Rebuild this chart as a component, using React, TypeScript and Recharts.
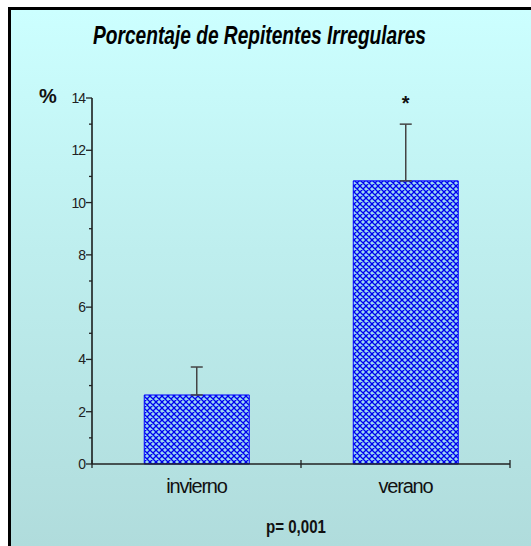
import React from "react";
import { BarChart, Bar, XAxis, YAxis, ErrorBar, LabelList } from "recharts";

const categories = ["invierno", "verano"];
const values = [2.64, 10.83];
const errorsUp = [1.07, 2.17];
const significance = ["", "*"];
const yTicks = [0, 1, 2, 3, 4, 5, 6, 7, 8, 9, 10, 11, 12, 13, 14];
const titleText = "Porcentaje de Repitentes Irregulares";
const unitText = "%";
const pValueText = "p= 0,001";

const data = categories.map((c, i) => ({
  name: c,
  value: values[i],
  err: [0, errorsUp[i]],
  sig: significance[i],
}));

const YTick = (props: any) => {
  const { x, y, payload } = props;
  const v = payload.value;
  const major = v % 2 === 0;
  return (
    <g>
      <line x1={major ? x + 2 : x + 5} x2={x + 8} y1={y} y2={y} stroke="#222" strokeWidth={1.3} />
      {major && (
        <text x={x + 1} y={y} dy={5} textAnchor="end" fontSize={14} fill="#222" fontFamily="Liberation Sans, Arial, sans-serif" letterSpacing={-1}>
          {v}
        </text>
      )}
    </g>
  );
};

const XTick = (props: any) => {
  const { x, y, payload, width, visibleTicksCount, index } = props;
  const half = width / visibleTicksCount / 2;
  const ay = y - 8;
  return (
    <g>
      {index === 0 && <line x1={x - half} x2={x - half} y1={ay - 4} y2={ay + 4} stroke="#222" strokeWidth={1.3} />}
      <line x1={x + half} x2={x + half} y1={ay - 4} y2={ay + 4} stroke="#222" strokeWidth={1.3} />
      <text x={x} y={ay + 29} textAnchor="middle" fontSize={20} fill="#111" fontFamily="Liberation Sans, Arial, sans-serif" letterSpacing={-1.2}>
        {payload.value}
      </text>
    </g>
  );
};

const SigLabel = (props: any) => {
  const { x, y, width, height, value, index } = props;
  if (!value) return null;
  const v = values[index];
  const e = errorsUp[index];
  const top = y - (e * height) / v;
  return (
    <text x={x + width / 2} y={top - 14} textAnchor="middle" fontSize={20} fontWeight="bold" fill="#111" fontFamily="Liberation Sans, Arial, sans-serif">
      {value}
    </text>
  );
};

export default function App() {
  return (
    <div style={{ position: "absolute", left: 0, top: 0, width: 531, height: 546, overflow: "hidden" }}>
      <div
        style={{
          position: "absolute",
          left: 8,
          top: 7,
          width: 523,
          height: 539,
          boxSizing: "border-box",
          borderLeft: "3px solid #000",
          borderTop: "3px solid #000",
          background: "linear-gradient(to bottom, #CCFFFF 0%, #BEEEEE 45%, #B0DCDC 100%)",
        }}
      />
      <div style={{ position: "absolute", left: 0, top: 0 }}>
        <BarChart
          width={531}
          height={546}
          data={data}
          margin={{ top: 98, right: 21, bottom: 52, left: 32 }}
          barCategoryGap="25%"
        >
          <defs>
            <pattern id="xhatch" patternUnits="userSpaceOnUse" width={6} height={6}>
              <rect x={0} y={0} width={6} height={6} fill="#9AD6F2" />
              <path d="M0,0 L6,6 M6,0 L0,6 M-1,1 L1,-1 M5,7 L7,5 M-1,5 L1,7 M5,-1 L7,1" stroke="#0000EE" strokeWidth={1.3} />
            </pattern>
          </defs>
          <XAxis
            dataKey="name"
            axisLine={{ stroke: "#222", strokeWidth: 1.5 }}
            tickLine={false}
            tick={<XTick />}
            interval={0}
          />
          <YAxis
            domain={[0, 14]}
            ticks={yTicks}
            interval={0}
            width={60}
            axisLine={{ stroke: "#111", strokeWidth: 1.5 }}
            tickLine={false}
            tick={<YTick />}
          />
          <Bar dataKey="value" fill="url(#xhatch)" stroke="#0000FF" strokeWidth={1} isAnimationActive={false}>
            <ErrorBar dataKey="err" direction="y" width={6} stroke="#444" strokeWidth={1.5} />
            <LabelList dataKey="sig" content={<SigLabel />} />
          </Bar>
        </BarChart>
      </div>
      <svg width={531} height={546} style={{ position: "absolute", left: 0, top: 0, pointerEvents: "none" }}>
        <text x={93} y={44} fontSize={25} fontWeight="bold" fontStyle="italic" fill="#000" fontFamily="Liberation Sans, Arial, sans-serif" textLength={333} lengthAdjust="spacingAndGlyphs">
          {titleText}
        </text>
        <text x={39} y={103} fontSize={20} fontWeight="bold" fill="#111" fontFamily="Liberation Sans, Arial, sans-serif">
          {unitText}
        </text>
        <text x={266} y={533} fontSize={19} fontWeight="bold" fill="#111" fontFamily="Liberation Sans, Arial, sans-serif" textLength={60} lengthAdjust="spacingAndGlyphs">
          {pValueText}
        </text>
      </svg>
    </div>
  );
}
